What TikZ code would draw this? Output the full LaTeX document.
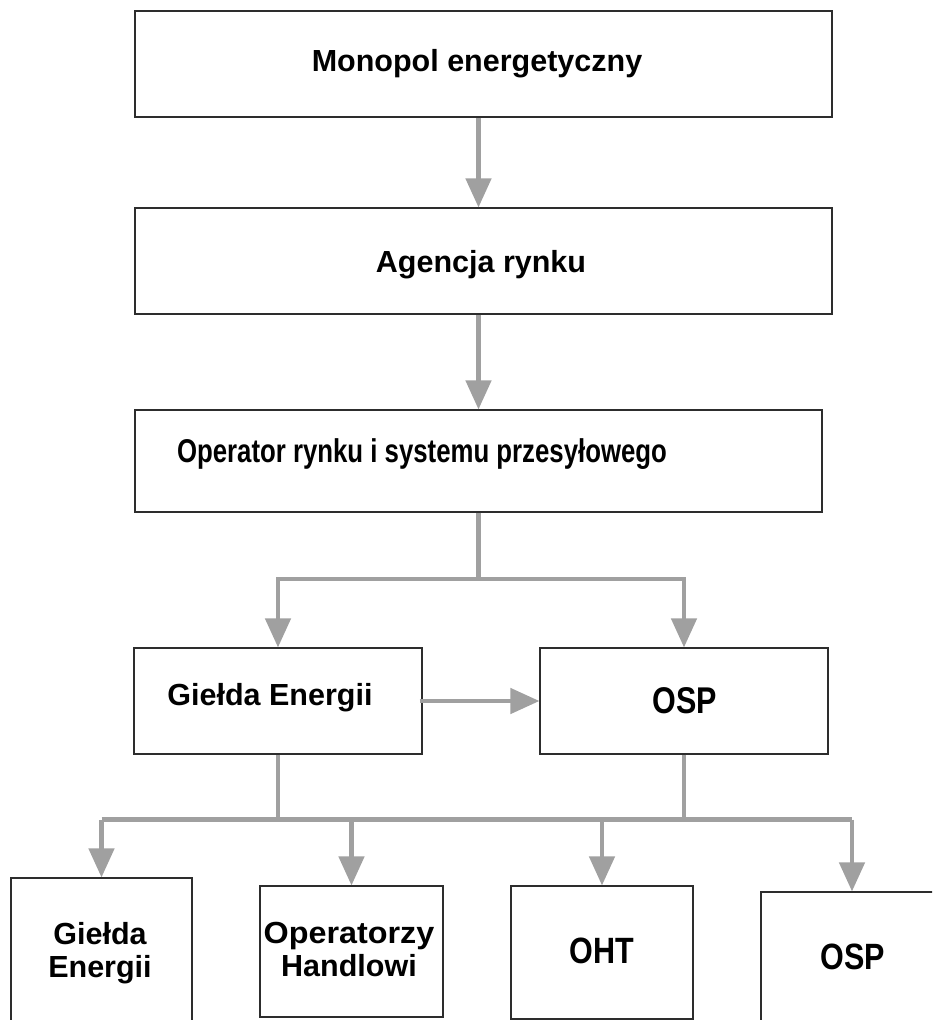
\documentclass[tikz,border=0pt]{standalone}
\usepackage{fontspec}
\setmainfont{Liberation Sans}
\usetikzlibrary{arrows.meta}
\definecolor{linkgray}{RGB}{160,160,160}
\definecolor{framegray}{RGB}{45,45,45}
\begin{document}
\begin{tikzpicture}[x=1pt,y=-1pt,
  box/.style={draw=framegray, line width=1.1pt, fill=white, inner sep=0pt},
  lbl/.style={font=\bfseries\fontsize{30.5}{33}\selectfont, inner sep=0pt, anchor=base, align=center},
  link/.style={draw=linkgray, line width=4.5pt},
  arr/.style={link, -{Triangle[length=29pt,width=25pt]}}]
\useasboundingbox (0,0) rectangle (932,1020);
\clip (0,0) rectangle (932,1020);

% main chain
\node[box, minimum width=697pt, minimum height=106pt] (mono) at (483.5,64) {};
\node[box, minimum width=697pt, minimum height=106pt] (agen) at (483.5,261) {};
\node[box, minimum width=687pt, minimum height=102pt] (oper) at (478.5,461) {};

% second level
\node[box, minimum width=288pt, minimum height=106pt] (gield) at (278,701) {};
\node[box, minimum width=288pt, minimum height=106pt] (osp) at (684,701) {};

% bottom level
\node[box, minimum width=181pt, minimum height=150pt] (bgield) at (101.5,953) {};
\node[box, minimum width=183pt, minimum height=131pt] (bhand) at (351.5,951.5) {};
\node[box, minimum width=182pt, minimum height=133pt] (boht) at (602,952.5) {};
\node[box, minimum width=182pt, minimum height=150pt] (bosp) at (852,967) {};

% labels
\node[lbl] (tmono) at (477,71) {Monopol energetyczny};
\node[lbl] (tagen) at (481,272) {Agencja rynku};
\node[lbl] (toper) at (422,462) {\scalebox{0.845}[1.08]{Operator rynku i systemu przesyłowego}};
\node[lbl] (tgield) at (270,705) {Giełda Energii};
\node[lbl] (tosp) at (685,713) {\scalebox{1}[1.22]{OSP}};
\node[lbl, anchor=center] (tbgield) at (100,953) {Giełda\\Energii};
\node[lbl, anchor=center] (tbhand) at (349,949) {\scalebox{1.06}[1]{Operatorzy}\\Handlowi};
\node[lbl] (tboht) at (602,963) {\scalebox{1}[1.2]{OHT}};
\node[lbl] (tbosp) at (853,969) {\scalebox{1}[1.2]{OSP}};

% junctions
\coordinate (split) at (478.5,579);
\coordinate (bus) at (0,819.5);

% connectors
\draw[arr] (mono.south -| oper) -- (agen.north -| oper);
\draw[arr] (agen.south -| oper) -- (oper.north);
\draw[link] (oper.south) -- (split);
\draw[arr] (split) -| (gield.north);
\draw[arr] (split) -| (osp.north);
\draw[arr] ([xshift=-3pt]gield.east) -- (osp.west);

\draw[link] (gield.south) -- (gield.south |- bus);
\draw[link] (osp.south) -- (osp.south |- bus);
\draw[link] (bgield.north |- bus) -- (bosp.north |- bus);
\draw[arr] (bgield.north |- bus) -- (bgield.north);
\draw[arr] (bhand.north |- bus) -- (bhand.north);
\draw[arr] (boht.north |- bus) -- (boht.north);
\draw[arr] (bosp.north |- bus) -- (bosp.north);
\end{tikzpicture}
\end{document}
